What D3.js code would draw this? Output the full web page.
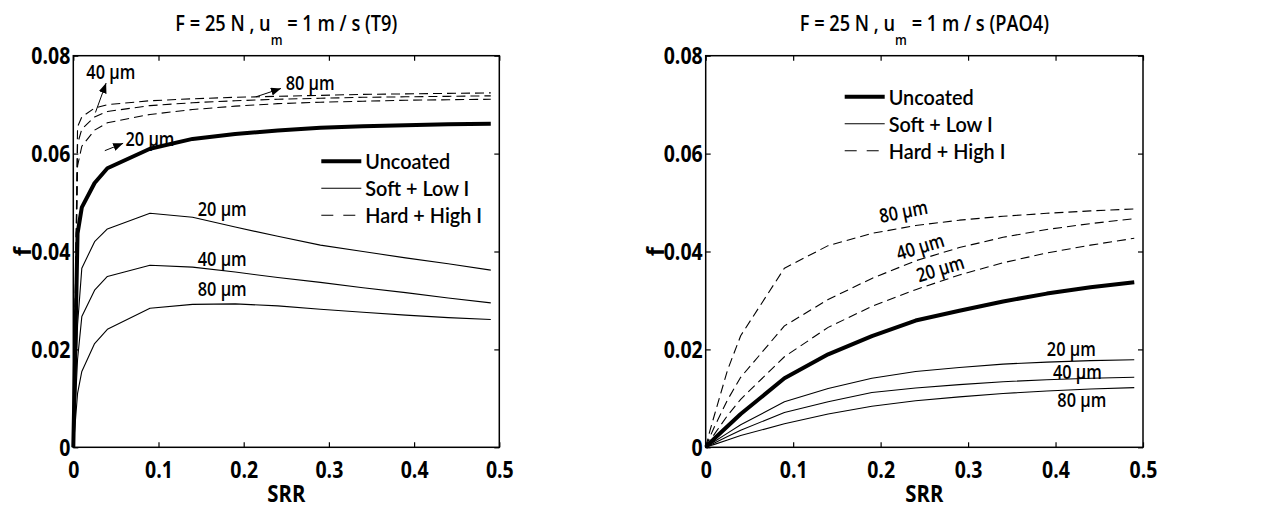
<!DOCTYPE html>
<html><head><meta charset="utf-8">
<script src="https://cdn.jsdelivr.net/npm/d3@7"></script>
<style>
body{margin:0;background:#fff;}
svg text{font-family:"Open Sans","Liberation Sans",Arial,sans-serif;fill:#000;}
svg text.leg{font-family:Lato,"Liberation Sans",Arial,sans-serif;}
</style></head><body>
<svg id="c" width="1263" height="508"></svg>
<script>
// ---------------- data ----------------
const srr = [0, 0.005, 0.01, 0.025, 0.04, 0.09, 0.14, 0.19, 0.24, 0.29, 0.34, 0.39, 0.44, 0.49];
const xTicks = [0, 0.1, 0.2, 0.3, 0.4, 0.5];
const xTickLabels = ["0", "0.1", "0.2", "0.3", "0.4", "0.5"];
const yTicks = [0, 0.02, 0.04, 0.06, 0.08];
const yTickLabels = ["0", "0.02", "0.04", "0.06", "0.08"];
const legendLabels = ["Uncoated", "Soft + Low I", "Hard + High I"];
const oils = ["T9", "PAO4"];

// T9
const t9Uncoated = [0, 0.0437, 0.049, 0.054, 0.057, 0.061, 0.063, 0.064, 0.0647, 0.0653, 0.0656, 0.0658, 0.066, 0.0661];
const t9Soft20 = [0, 0.025, 0.0366, 0.042, 0.0446, 0.0478, 0.047, 0.045, 0.0431, 0.0413, 0.040, 0.0387, 0.0375, 0.0362];
const t9Soft40 = [0, 0.018, 0.0267, 0.0321, 0.0349, 0.0372, 0.0368, 0.0358, 0.0347, 0.0337, 0.0326, 0.0316, 0.0305, 0.0295];
const t9Soft80 = [0, 0.011, 0.0155, 0.0212, 0.0241, 0.0284, 0.0292, 0.0293, 0.0289, 0.0282, 0.0276, 0.027, 0.0265, 0.0261];
const t9Hard20 = [0, 0.0575, 0.0615, 0.0648, 0.0663, 0.068, 0.069, 0.0697, 0.0702, 0.0705, 0.0707, 0.0709, 0.071, 0.0711];
const t9Hard40 = [0, 0.062, 0.065, 0.0675, 0.0686, 0.0698, 0.0704, 0.0708, 0.0711, 0.0713, 0.0715, 0.0716, 0.0717, 0.0718];
const t9Hard80 = [0, 0.0655, 0.0675, 0.0693, 0.070, 0.0708, 0.0712, 0.0715, 0.0717, 0.0719, 0.0721, 0.0722, 0.0723, 0.0724];

// PAO4
const paoUncoated = [0, 0.0009, 0.0018, 0.0043, 0.0068, 0.0141, 0.019, 0.0227, 0.0259, 0.0279, 0.0298, 0.0314, 0.0327, 0.0337];
const paoSoft20 = [0, 0.0006, 0.0012, 0.0029, 0.0046, 0.0093, 0.012, 0.0141, 0.0155, 0.0163, 0.017, 0.0174, 0.0177, 0.0179];
const paoSoft40 = [0, 0.00045, 0.0009, 0.0022, 0.0035, 0.0071, 0.0093, 0.0112, 0.0121, 0.0128, 0.0134, 0.0138, 0.0141, 0.0143];
const paoSoft80 = [0, 0.0003, 0.0006, 0.0015, 0.0024, 0.0048, 0.0068, 0.0084, 0.0095, 0.0103, 0.011, 0.0115, 0.0119, 0.0122];
const paoHard20 = [0, 0.0014, 0.0027, 0.0065, 0.0098, 0.0185, 0.0245, 0.0288, 0.0322, 0.0352, 0.0377, 0.0397, 0.0413, 0.0427];
const paoHard40 = [0, 0.0022, 0.0042, 0.0097, 0.0143, 0.0248, 0.0302, 0.0345, 0.0381, 0.0408, 0.0429, 0.0445, 0.0457, 0.0467];
const paoHard80 = [0, 0.0035, 0.0066, 0.0158, 0.0228, 0.0366, 0.0412, 0.0437, 0.0453, 0.0464, 0.0472, 0.0478, 0.0483, 0.0487];

// annotation labels [srr, f, text, rotation]
const t9Labels = [
  [0.1748, 0.0488, "20 µm", 0], [0.1748, 0.0385, "40 µm", 0], [0.1748, 0.0324, "80 µm", 0],
  [0.044, 0.0767, "40 µm", 0], [0.090, 0.0631, "20 µm", 0], [0.278, 0.0746, "80 µm", 0]
];
// arrows [srrFrom, fFrom, srrTo, fTo]
const t9Arrows = [
  [0.026, 0.0684, 0.0385, 0.0744],
  [0.037, 0.0606, 0.0585, 0.0621],
  [0.2144, 0.0716, 0.2437, 0.0733]
];
const paoLabels = [
  [0.226, 0.0483, "80 µm", -11], [0.245, 0.0411, "40 µm", -17], [0.268, 0.0366, "20 µm", -17],
  [0.418, 0.0203, "20 µm", 0], [0.425, 0.0155, "40 µm", 0], [0.430, 0.0097, "80 µm", 0]
];
const paoArrows = [];

// ---------------- layout ----------------
const svg = d3.select("#c");
svg.append("defs").append("marker")
  .attr("id", "ah").attr("viewBox", "0 0 10 8").attr("refX", 10).attr("refY", 4)
  .attr("markerWidth", 10).attr("markerHeight", 8).attr("markerUnits", "userSpaceOnUse")
  .attr("orient", "auto")
  .append("path").attr("d", "M0,0 L10,4 L0,8 z").attr("fill", "#000");

// measure natural text width to derive a condensed horizontal scale
function measure(build) {
  const t = svg.append("text");
  build(t);
  const w = t.node().getComputedTextLength();
  t.remove();
  return w;
}
const FS = { tick: 22.5, title: 22, sub: 15, legend: 21, ann: 19.5, axis: 23 };
function buildTitle(t, oil) {
  t.style("font-size", FS.title + "px").style("font-weight", 600);
  t.append("tspan").text("F = 25 N , u");
  t.append("tspan").attr("dy", 14).style("font-size", FS.sub + "px").text("m");
  t.append("tspan").attr("dy", -14).text(` = 1 m / s (${oil})`);
}
const sx = {
  tick: Math.min(1, 39 / measure(t => t.style("font-size", FS.tick + "px").style("font-weight", "bold").text("0.02"))),
  title: Math.min(1, 222 / measure(t => buildTitle(t, oils[0]))),
  legend: Math.min(1, 85 / measure(t => t.attr("class", "leg").style("font-size", FS.legend + "px").style("font-weight", 600).text("Uncoated"))),
  ann: Math.min(1, 49 / measure(t => t.style("font-size", FS.ann + "px").style("font-weight", 600).text("20 µm"))),
  axis: Math.min(1, 38 / measure(t => t.style("font-size", FS.axis + "px").style("font-weight", "bold").text("SRR")))
};

const panels = [
  { x0: 73.3, x1: 499.3, y0: 55.7, y1: 447.3, oil: oils[0],
    series: [[t9Uncoated, "thick"], [t9Soft20, "thin"], [t9Soft40, "thin"], [t9Soft80, "thin"],
             [t9Hard20, "dash"], [t9Hard40, "dash"], [t9Hard80, "dash"]],
    labels: t9Labels, arrows: t9Arrows, legX: 248, legY: [105.5, 132.5, 159.5] },
  { x0: 705.7, x1: 1143, y0: 55.7, y1: 447.3, oil: oils[1],
    series: [[paoUncoated, "thick"], [paoSoft20, "thin"], [paoSoft40, "thin"], [paoSoft80, "thin"],
             [paoHard20, "dash"], [paoHard40, "dash"], [paoHard80, "dash"]],
    labels: paoLabels, arrows: paoArrows, legX: 139, legY: [41, 68, 95] }
];

const styles = {
  thick: { w: 4, dash: null },
  thin: { w: 1.1, dash: null },
  dash: { w: 1.1, dash: "9,5" }
};

panels.forEach(p => {
  const x = d3.scaleLinear().domain([0, 0.5]).range([p.x0, p.x1]);
  const y = d3.scaleLinear().domain([0, 0.08]).range([p.y1, p.y0]);
  const g = svg.append("g");

  // data lines
  const line = d3.line().x((d, i) => x(srr[i])).y(d => y(d));
  p.series.forEach(([vals, st]) => {
    g.append("path").attr("d", line(vals)).attr("fill", "none").attr("stroke", "#000")
      .attr("stroke-width", styles[st].w).attr("stroke-dasharray", styles[st].dash)
      .attr("stroke-linejoin", "round");
  });

  // axes (inward ticks)
  const tl = 5;
  const bx = g.append("g").attr("transform", `translate(0,${p.y1})`)
    .call(d3.axisBottom(x).tickValues(xTicks).tickSize(-tl).tickSizeOuter(0).tickPadding(tl + 10)
      .tickFormat((d, i) => xTickLabels[i]));
  const tx = g.append("g").attr("transform", `translate(0,${p.y0})`)
    .call(d3.axisTop(x).tickValues(xTicks).tickSize(-tl).tickSizeOuter(0).tickFormat(""));
  const ly = g.append("g").attr("transform", `translate(${p.x0},0)`)
    .call(d3.axisLeft(y).tickValues(yTicks).tickSize(-tl).tickSizeOuter(0).tickPadding(tl + 3)
      .tickFormat((d, i) => yTickLabels[i]));
  const ry = g.append("g").attr("transform", `translate(${p.x1},0)`)
    .call(d3.axisRight(y).tickValues(yTicks).tickSize(-tl).tickSizeOuter(0).tickFormat(""));
  [bx, tx, ly, ry].forEach(a => {
    a.select(".domain").remove();
    a.selectAll(".tick line").attr("stroke", "#000").attr("stroke-width", 1.2);
    a.attr("font-family", null).attr("font-size", null);
    a.selectAll("text").style("font-size", FS.tick + "px").style("font-weight", "bold").attr("fill", "#000");
  });
  bx.selectAll("text").attr("dy", "0.71em").attr("transform", `scale(${sx.tick},1)`);
  ly.selectAll("text").attr("dy", "0.36em").attr("x", -3 / sx.tick).attr("transform", `scale(${sx.tick},1)`);

  g.append("rect").attr("x", p.x0).attr("y", p.y0).attr("width", p.x1 - p.x0).attr("height", p.y1 - p.y0)
    .attr("fill", "none").attr("stroke", "#000").attr("stroke-width", 1.5);

  // axis labels
  const cx = (p.x0 + p.x1) / 2;
  g.append("text").attr("transform", `translate(${cx},502) scale(${sx.axis},1)`).attr("text-anchor", "middle")
    .style("font-size", FS.axis + "px").style("font-weight", "bold").text("SRR");
  g.append("text").attr("transform", `translate(${p.x0 - 42},${(p.y0 + p.y1) / 2}) rotate(-90)`)
    .attr("text-anchor", "middle").style("font-size", "24px").style("font-weight", "bold").text("f");

  // title
  const t = g.append("text").attr("transform", `translate(${cx},31) scale(${sx.title},1)`)
    .attr("text-anchor", "middle");
  buildTitle(t, p.oil);

  // legend
  legendLabels.forEach((lab, i) => {
    const st = styles[["thick", "thin", "dash"][i]];
    const ly0 = p.y0 + p.legY[i];
    g.append("line").attr("x1", p.x0 + p.legX).attr("x2", p.x0 + p.legX + 40)
      .attr("y1", ly0).attr("y2", ly0).attr("stroke", "#000").attr("stroke-width", st.w)
      .attr("stroke-dasharray", st.dash ? "12,10" : null);
    g.append("text").attr("class", "leg")
      .attr("transform", `translate(${p.x0 + p.legX + 44},${ly0}) scale(${sx.legend},1)`)
      .attr("dominant-baseline", "central")
      .style("font-size", FS.legend + "px").style("font-weight", 600).text(lab);
  });

  // annotation labels
  p.labels.forEach(([lx, fy, txt, rot]) => {
    g.append("text").attr("transform", `translate(${x(lx)},${y(fy)}) rotate(${rot}) scale(${sx.ann},1)`)
      .attr("text-anchor", "middle").attr("dominant-baseline", "central")
      .style("font-size", FS.ann + "px").style("font-weight", 600).text(txt);
  });
  p.arrows.forEach(([a, b, c, d]) => {
    g.append("line").attr("x1", x(a)).attr("y1", y(b)).attr("x2", x(c)).attr("y2", y(d))
      .attr("stroke", "#000").attr("stroke-width", 1).attr("marker-end", "url(#ah)");
  });
});
</script>
</body></html>
